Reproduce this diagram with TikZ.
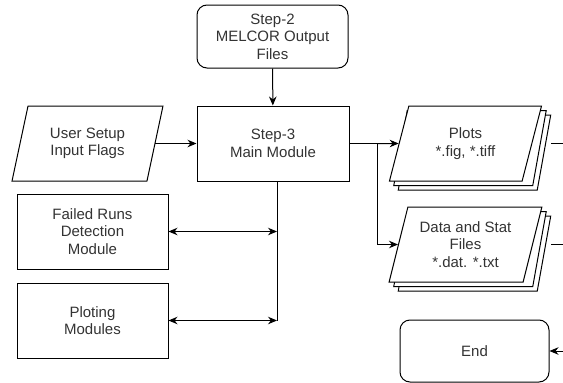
\documentclass[tikz,border=0pt]{standalone}
\usepackage{fontspec}
\setmainfont{Liberation Sans}
\usetikzlibrary{arrows.meta,shapes.geometric,calc}
\begin{document}
\begin{tikzpicture}[x=1pt,y=-1pt,line width=1pt,
  every node/.style={font=\fontsize{15pt}{17.5pt}\selectfont, text=black!80, align=center, inner sep=0pt, line width=1pt},
  box/.style={draw, rectangle, minimum width=151pt, minimum height=75pt},
  rbox/.style={draw, rectangle, rounded corners=10pt, minimum width=151pt, minimum height=63pt},
  para/.style={draw, fill=white, trapezium, trapezium left angle=72, trapezium right angle=108, trapezium stretches=true, minimum width=151pt, minimum height=75pt},
  arr/.style={-{Stealth[length=9pt,width=7.5pt]}},
  darr/.style={{Stealth[length=9pt,width=7.5pt]}-{Stealth[length=9pt,width=7.5pt]}}]
\useasboundingbox (0,0) rectangle (563,383);

\node[rbox] (step2) at (272.5,36.5) {Step-2\\MELCOR Output\\Files};
\node[box, minimum width=152pt] (main) at (273,143.5) {Step-3\\Main Module};
\node[para] (user) at (87.5,143.5) {User Setup\\Input Flags};
\node[box] (failed) at (92.5,231.5) {Failed Runs\\Detection\\Module};
\node[box] (ploting) at (92.5,320.5) {Ploting\\Modules};

\node[para, minimum width=153pt] (plots3) at (474.5,152.5) {\phantom{Plots}};
\node[para, minimum width=153pt] (plots2) at (470,148) {\phantom{Plots}};
\node[para, minimum width=153pt] (plots) at (465.5,143.5) {Plots\\*.fig, *.tiff};

\node[para, minimum width=153pt] (data3) at (474.5,253.5) {\phantom{Data}};
\node[para, minimum width=153pt] (data2) at (470,249) {\phantom{Data}};
\node[para, minimum width=153pt] (data) at (465.5,244.5) {Data and Stat\\Files\\*.dat. *.txt};

\node[rbox, minimum width=149pt, minimum height=62pt] (end) at (474.5,351) {End};

\coordinate (j1) at (377,143.5);
\coordinate (v1) at (277,231.5);
\coordinate (v2) at (277,320.5);
\coordinate (pout) at (563,143.5);
\coordinate (dout) at (563,244.5);
\coordinate (ein) at (563,351);

\draw[arr] (step2) -- (main);
\draw[arr] (user) -- (main);
\draw (main.east) -- (j1);
\draw[arr] (j1) -- (plots);
\draw[arr] (j1) |- (data);
\draw (v2 |- main.south) -- (v2);
\draw[darr] (failed.east) -- (v1);
\draw[darr] (ploting.east) -- (v2);
\draw (plots3.top right corner |- plots.center) -- (pout);
\draw (data3.top right corner |- data.center) -- (dout);
\draw[arr] (ein) -- (end.east);
\end{tikzpicture}
\end{document}
